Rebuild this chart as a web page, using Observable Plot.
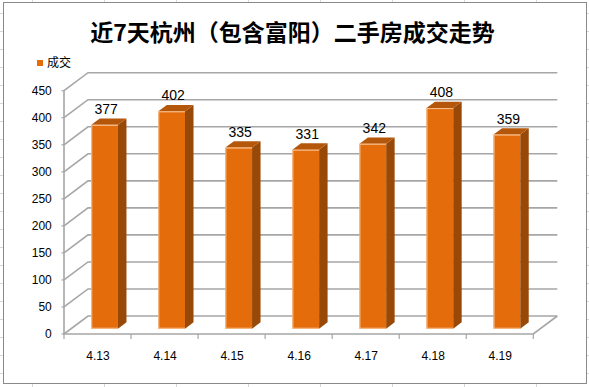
<!DOCTYPE html>
<html><head><meta charset="utf-8">
<script src="https://cdn.jsdelivr.net/npm/d3@7"></script>
<script src="https://cdn.jsdelivr.net/npm/@observablehq/plot@0.6"></script>
<style>
body{margin:0;}
#page{position:relative;width:589px;height:387px;overflow:hidden;background-color:#fff;
 background-image:linear-gradient(to right,#d6d6d6 1px,transparent 1px),linear-gradient(to bottom,#d6d6d6 1px,transparent 1px);
 background-size:72px 18px;background-position:32px 13px;}
#frame{position:absolute;left:3px;top:2px;width:584px;height:382px;box-sizing:border-box;border:1px solid #8a8a8a;background:#fff;}
#title{position:absolute;left:0;width:585px;top:20px;text-align:center;font-family:"Noto Sans CJK SC";font-weight:bold;font-size:23px;line-height:23px;letter-spacing:0;color:#000;white-space:nowrap;}
#legend{position:absolute;left:37px;top:56px;font-family:"Noto Sans CJK SC";font-size:12px;line-height:12px;color:#000;white-space:nowrap;}
#legend .sw{display:inline-block;width:6px;height:6px;background:#E46C0A;margin-right:4px;vertical-align:1px;}
#chart{position:absolute;left:0;top:0;}
</style></head>
<body>
<div id="page">
  <div id="frame"></div>
  <div id="title"></div>
  <div id="legend"><span class="sw"></span><span id="legname"></span></div>
  <div id="chart"></div>
</div>
<script>
// ---- data ----
const chartTitle = "近7天杭州（包含富阳）二手房成交走势";
const seriesName = "成交";
const categories = ["4.13", "4.14", "4.15", "4.16", "4.17", "4.18", "4.19"];
const values = [377, 402, 335, 331, 342, 408, 359];
const yTicks = [0, 50, 100, 150, 200, 250, 300, 350, 400, 450];

document.getElementById("title").textContent = chartTitle;
document.getElementById("legname").textContent = seriesName;

// ---- 3D look (pixel offsets) ----
const WALL_DX = 24, WALL_DY = -18;     // depth of walls/floor
const BAR_DX = 7.1, BAR_DY = -5.3;     // bar front placed inside the depth
const SIDE_DX = 8.5, SIDE_DY = -6.4;   // bar depth
const GRID = "#a6a6a6";
const FRONT = "#E46C0A", SIDE = "#984807", TOP = "#B5570B", EDGE = "#F8C291";
const idx = values.map((_, i) => i);
const n = categories.length;

function pathG(g, d, stroke, width, fill) {
  g.append("path").attr("d", d).attr("fill", fill || "none")
    .attr("stroke", stroke || "none").attr("stroke-width", width || 0);
}

const walls = Plot.ruleY(yTicks, {
  y: d => d,
  render(index, scales) {
    const x = scales.x, y = scales.y;
    const g = d3.create("svg:g");
    const xl = x(0), xr = x(n);
    for (const i of index) {
      const yf = y(yTicks[i]);
      pathG(g, `M${xl},${yf}L${xl + WALL_DX},${yf + WALL_DY}L${xr + WALL_DX},${yf + WALL_DY}`, GRID, 1.6);
      pathG(g, `M${xl - 2.5},${yf}L${xl},${yf}`, GRID, 1.2);
    }
    const y0 = y(0), yt = y(yTicks[yTicks.length - 1]);
    pathG(g, `M${xl},${yt}L${xl},${y0}L${xr},${y0}L${xr + WALL_DX},${y0 + WALL_DY}`, GRID, 1.6);
    for (let k = 0; k <= n; k++) pathG(g, `M${x(k)},${y0}L${x(k)},${y0 + 5}`, GRID, 1.2);
    return g.node();
  }
});

const barGeom = (i, x, y) => {
  const xl = x(i + 0.301) + BAR_DX, xr = x(i + 0.699) + BAR_DX;
  const yt = y(values[i]) + BAR_DY, yb = y(0) + BAR_DY;
  return {xl, xr, yt, yb};
};

const sides = Plot.rectY(idx, {
  x1: i => i + 0.301, x2: i => i + 0.699, y1: 0, y2: i => values[i],
  render(index, scales) {
    const g = d3.create("svg:g");
    for (const j of index) {
      const {xl, xr, yt, yb} = barGeom(idx[j], scales.x, scales.y);
      pathG(g, `M${xr},${yt}L${xr + SIDE_DX},${yt + SIDE_DY}L${xr + SIDE_DX},${yb + SIDE_DY}L${xr},${yb}Z`, null, 0, SIDE);
      pathG(g, `M${xl},${yt}L${xl + SIDE_DX},${yt + SIDE_DY}L${xr + SIDE_DX},${yt + SIDE_DY}L${xr},${yt}Z`, null, 0, TOP);
    }
    return g.node();
  }
});

const fronts = Plot.rectY(idx, {
  x1: i => i + 0.301, x2: i => i + 0.699, y1: 0, y2: i => values[i],
  fill: FRONT, dx: BAR_DX, dy: BAR_DY
});

const edges = Plot.rectY(idx, {
  x1: i => i + 0.301, x2: i => i + 0.699, y1: 0, y2: i => values[i],
  render(index, scales) {
    const g = d3.create("svg:g");
    for (const j of index) {
      const {xl, xr, yt, yb} = barGeom(idx[j], scales.x, scales.y);
      pathG(g, `M${xr},${yt + 0.5}L${xl + 0.5},${yt + 0.5}L${xl + 0.5},${yb - 0.5}L${xr},${yb - 0.5}`, EDGE, 1);
    }
    return g.node();
  }
});

const chart = Plot.plot({
  width: 589, height: 387,
  margin: 0,
  x: {type: "linear", domain: [0, n], range: [64, 533.3], axis: null},
  y: {type: "linear", domain: [0, 450], range: [334, 90.7], axis: null},
  style: {background: "transparent", overflow: "visible", fontFamily: "Liberation Sans"},
  marks: [
    walls,
    sides,
    fronts,
    edges,
    Plot.text(idx, {x: i => i + 0.5, y: i => values[i], text: i => String(values[i]),
      dx: BAR_DX + 1, dy: BAR_DY - 16, fontSize: 14, fill: "#000"}),
    Plot.text(yTicks, {x: 0, y: d => d, text: d => String(d), dx: -12.7, textAnchor: "end", fontSize: 12, fill: "#000"}),
    Plot.text(categories, {x: (d, i) => i + 0.5, y: 0, text: d => d, dy: 21.7, fontSize: 12, fill: "#000"})
  ]
});
document.getElementById("chart").appendChild(chart);
</script>
</body></html>
